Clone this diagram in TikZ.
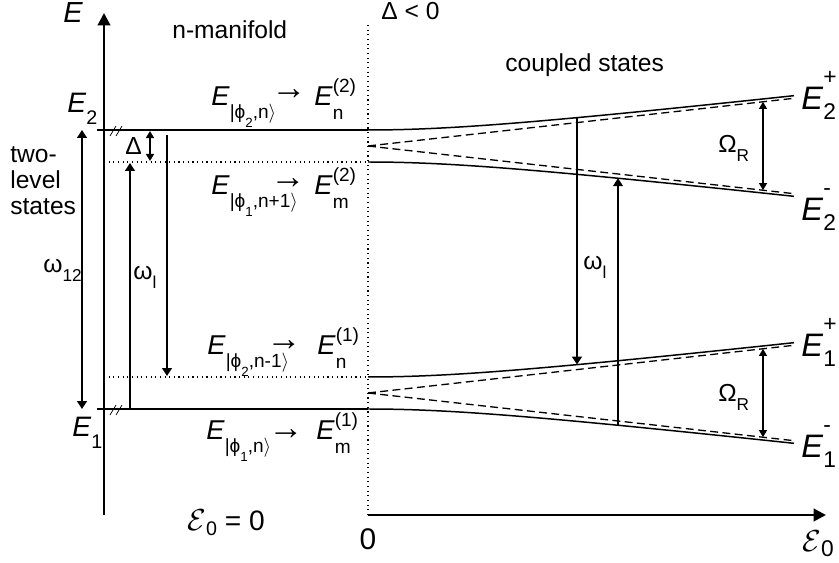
\documentclass[tikz,border=0pt]{standalone}
\usepackage{amsmath}
\usepackage{fontspec}
\setmainfont{Liberation Sans}
\usepackage{tikz}
\usetikzlibrary{arrows.meta}

\newcommand{\lo}[2][0.5em]{\raisebox{-#1}{$\scriptstyle\text{#2}$}}
\newcommand{\hi}[2][0.5em]{\raisebox{#1}{$\scriptstyle\text{#2}$}}
\newcommand{\hilo}[2]{\rlap{\hi{#1}}\lo{#2}}
\newcommand{\hilor}[2]{\rlap{\hi[0.78em]{#1}}\lo[0.3em]{#2}}

\begin{document}
\begin{tikzpicture}[x=0.02cm, y=-0.02cm,
    every node/.style={inner sep=0pt, font=\fontsize{14}{15}\selectfont},
    axis/.style={line width=1.6pt, -{Triangle[length=7pt, width=7pt]}},
    level/.style={line width=1.2pt},
    virt/.style={line width=0.65pt, dotted},
    bare/.style={line width=0.75pt, dash pattern=on 4.5pt off 2.5pt},
    dressed/.style={line width=0.85pt},
    trans/.style={line width=1.3pt, -{Triangle[length=4.5pt, width=5.5pt]}},
    split/.style={line width=0.7pt, {Triangle[length=4pt, width=4.5pt]}-{Triangle[length=4pt, width=4.5pt]}},
    hatch/.style={line width=0.4pt},
    mid/.style={font=\fontsize{15.5}{17}\selectfont},
    big/.style={font=\fontsize{16}{18}\selectfont},
    huge/.style={font=\fontsize{18.5}{20}\selectfont},
    goesto/.style={font=\fontsize{20}{20}\selectfont}]
  \useasboundingbox (0,0) rectangle (839,563);

  % axes
  \coordinate (origin) at (104,515);
  \coordinate (etop) at (104,13);
  \coordinate (fzero) at (368,515);
  \coordinate (fend) at (826,515);
  \coordinate (divtop) at (368,25);
  \draw[axis] (origin) -- (etop);
  \draw[axis] (fzero) -- (fend);
  \draw[virt] (divtop) -- (fzero);
  \node[anchor=base west, font=\fontsize{16.5}{18}\selectfont\itshape] (elabel) at (63,23) {E};
  \node[anchor=base] (zero) at (368,550) {\fontsize{17}{18}\selectfont 0};
  \node[anchor=base west, huge] (fieldlabel) at (802,552) {$\mathcal{E}$\lo[0.15em]{0}};
  \node[anchor=base west, big] (nofield) at (187,531) {$\mathcal{E}$\lo[0.15em]{0} = 0};
  \node[anchor=base west] (detuning) at (381,20) {Δ < 0};
  \node[anchor=base west] (manifold) at (172,39) {n-manifold};
  \node[anchor=base west] (coupled) at (505,72) {coupled states};
  \node[anchor=north west, align=left] (twolevel) at (10,146) {two-\\level\\states};

  % uncoupled levels
  \coordinate (e2l) at (97,130);  \coordinate (e2r) at (368,130);
  \coordinate (e1l) at (97,409);  \coordinate (e1r) at (368,409);
  \coordinate (v2l) at (104,162); \coordinate (v2r) at (368,162);
  \coordinate (v1l) at (104,377); \coordinate (v1r) at (368,377);
  \draw[level] (e2l) -- (e2r);
  \draw[level] (e1l) -- (e1r);
  \draw[virt] (v2l) -- (v2r);
  \draw[virt] (v1l) -- (v1r);
  \draw[hatch] (110,136) -- (116,126) (116,136) -- (122,126);
  \draw[hatch] (110,415) -- (116,405) (116,415) -- (122,405);
  \node[anchor=base west, big] (e2) at (67,113) {\textit{E}\lo[0.4em]{2}};
  \node[anchor=base west, big] (e1) at (72,437) {\textit{E}\lo[0.4em]{1}};

  % left arrows
  \coordinate (w12b) at (82,409); \coordinate (w12t) at (82,130);
  \draw[trans, {Triangle[length=4.5pt, width=5.5pt]}-{Triangle[length=4.5pt, width=5.5pt]}] (w12b) -- (w12t);
  \node[anchor=base west] (w12) at (43,273) {ω\lo[0.35em]{12}};
  \coordinate (wlb) at (130,409); \coordinate (wlt) at (130,163);
  \draw[trans] (wlb) -- (wlt);
  \node[anchor=base west] (wl) at (133,280) {ω\lo[0.35em]{l}};
  \coordinate (wdt) at (167,135); \coordinate (wdb) at (167,376);
  \draw[trans] (wdt) -- (wdb);
  \coordinate (dt) at (150,131); \coordinate (db) at (150,161);
  \draw[split, line width=1.1pt] (dt) -- (db);
  \node[anchor=base west] (delta) at (125,155) {Δ};

  % bare-state labels
  \node[anchor=base west, mid] (lhs2n) at (211,106) {\textit{E}\lo[0.45em]{|ϕ\lo{2},n$\rangle$}};
  \node[anchor=base west, mid] (lhs1n1) at (211,195) {\textit{E}\lo[0.45em]{|ϕ\lo{1},n+1$\rangle$}};
  \node[anchor=base west, mid] (lhs2n1) at (207,355) {\textit{E}\lo[0.45em]{|ϕ\lo{2},n-1$\rangle$}};
  \node[anchor=base west, mid] (lhs1n) at (206,440) {\textit{E}\lo[0.45em]{|ϕ\lo{1},n$\rangle$}};
  \node[goesto] (to2n) at (289,100) {\smash{→}};
  \node[goesto] (to1n1) at (288,189) {\smash{→}};
  \node[goesto] (to2n1) at (284,351) {\smash{→}};
  \node[goesto] (to1n) at (286,440) {\smash{→}};
  \node[anchor=base west, mid] (en2) at (314,106) {\textit{E}\hilo{(2)}{n}};
  \node[anchor=base west, mid] (em2) at (314,195) {\textit{E}\hilo{(2)}{m}};
  \node[anchor=base west, mid] (en1) at (317,355) {\textit{E}\hilo{(1)}{n}};
  \node[anchor=base west, mid] (em1) at (316,440) {\textit{E}\hilo{(1)}{m}};

  % coupled states
  \foreach \yc in {146,393} {
    \draw[bare] (368,\yc) -- (794,\yc-47.7);
    \draw[bare] (368,\yc) -- (794,\yc+47.7);
    \draw[dressed] plot[domain=0:426, samples=50] ({368+\x},{\yc-sqrt(256+(0.112*\x)^2)});
    \draw[dressed] plot[domain=0:426, samples=50] ({368+\x},{\yc+sqrt(256+(0.112*\x)^2)});
  }
  \node[anchor=base west, huge] (e2p) at (801,110) {\textit{E}\hilor{+}{2}};
  \node[anchor=base west, huge] (e2m) at (801,221) {\textit{E}\hilor{-}{2}};
  \node[anchor=base west, huge] (e1p) at (801,357) {\textit{E}\hilor{+}{1}};
  \node[anchor=base west, huge] (e1m) at (801,458) {\textit{E}\hilor{-}{1}};

  % right arrows
  \coordinate (a2p) at (577,117.6); \coordinate (a1p) at (577,364.6);
  \draw[trans] (a2p) -- (a1p);
  \node[anchor=base west] (wlr) at (583,270) {ω\lo[0.35em]{l}};
  \coordinate (b1m) at (618,425.2); \coordinate (b2m) at (618,178.2);
  \draw[trans] (b1m) -- (b2m);
  \coordinate (r2t) at (763,101.8); \coordinate (r2b) at (763,190.2);
  \coordinate (r1t) at (763,348.8); \coordinate (r1b) at (763,437.2);
  \draw[split] (r2t) -- (r2b);
  \draw[split] (r1t) -- (r1b);
  \node[anchor=base west] (rabi2) at (718,153) {Ω\lo[0.35em]{R}};
  \node[anchor=base west] (rabi1) at (718,402) {Ω\lo[0.35em]{R}};
\end{tikzpicture}
\end{document}
